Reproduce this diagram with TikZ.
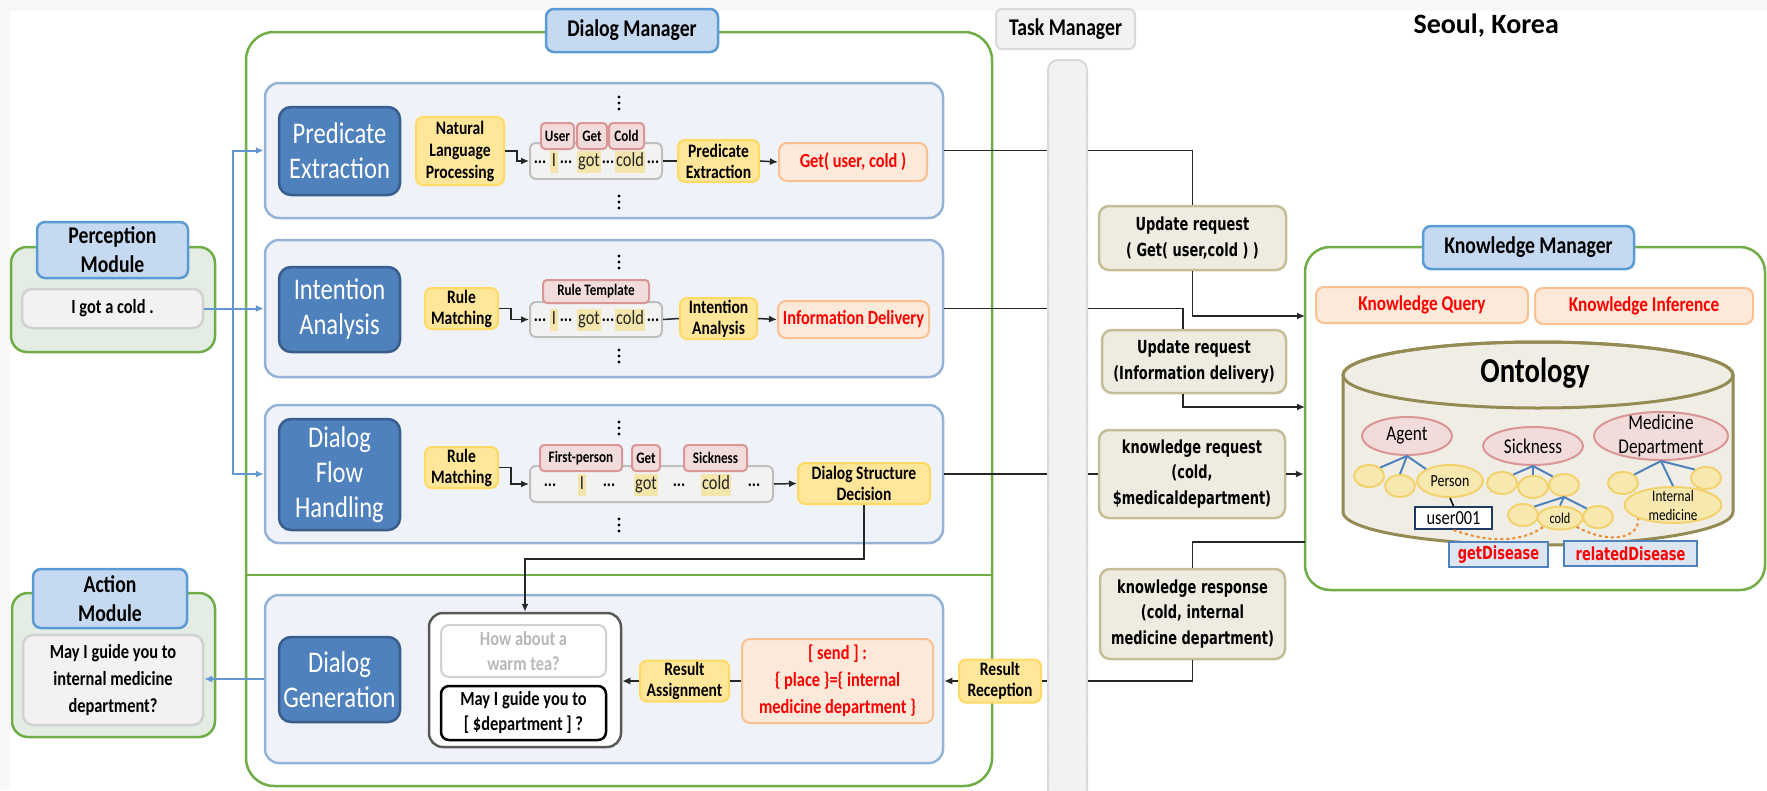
\documentclass[tikz,border=0pt]{standalone}
\usepackage{fontspec}
\setmainfont{Carlito}[FakeStretch=0.82]
\newfontfamily\headfont{Carlito}
\newfontfamily\reqfont{DejaVu Sans}[FakeStretch=0.72]
\usetikzlibrary{arrows.meta,shapes.geometric,patterns}

\definecolor{dmgreen}{RGB}{112,173,71}
\definecolor{modfill}{RGB}{227,237,227}
\definecolor{lblfill}{RGB}{197,217,241}
\definecolor{lblline}{RGB}{91,155,213}
\definecolor{panfill}{RGB}{239,243,249}
\definecolor{panline}{RGB}{149,179,215}
\definecolor{taskfill}{RGB}{79,129,189}
\definecolor{taskline}{RGB}{56,93,138}
\definecolor{yelfill}{RGB}{255,230,153}
\definecolor{yelline}{RGB}{255,217,102}
\definecolor{tagfill}{RGB}{242,220,219}
\definecolor{tagline}{RGB}{217,150,148}
\definecolor{stripfill}{RGB}{242,242,242}
\definecolor{stripline}{RGB}{191,191,191}
\definecolor{hlfill}{RGB}{243,229,171}
\definecolor{resfill}{RGB}{253,233,217}
\definecolor{resline}{RGB}{250,192,144}
\definecolor{reqfill}{RGB}{238,236,225}
\definecolor{reqline}{RGB}{196,189,151}
\definecolor{cylline}{RGB}{148,138,84}
\definecolor{cylfill}{RGB}{240,238,228}
\definecolor{ovfill}{RGB}{247,232,175}
\definecolor{ovline}{RGB}{242,210,110}
\definecolor{treeblue}{RGB}{79,129,189}
\definecolor{arrblue}{RGB}{100,150,210}
\definecolor{relfill}{RGB}{220,230,242}
\definecolor{dashorange}{RGB}{235,140,50}
\definecolor{userline}{RGB}{31,56,100}

\newcommand{\fsz}[2]{\fontsize{#1}{#2}\selectfont}

\tikzset{
  modbox/.style={draw=dmgreen, fill=modfill, line width=2.5pt, rounded corners=16pt, inner sep=0pt},
  mgrbox/.style={draw=dmgreen, fill=white, line width=2.5pt, rounded corners=28pt, inner sep=0pt},
  lblbox/.style={draw=lblline, fill=lblfill, line width=2.5pt, rounded corners=8pt, align=center, inner sep=0pt},
  greybox/.style={draw=black!18, fill=stripfill, line width=2.5pt, rounded corners=10pt, align=center, inner sep=0pt},
  panel/.style={draw=panline, fill=panfill, line width=2.5pt, rounded corners=14pt, inner sep=0pt, minimum width=678pt},
  darkbox/.style={draw=taskline, fill=taskfill, line width=2.5pt, rounded corners=12pt, text=white, align=center, inner sep=0pt, minimum width=121pt, font=\fsz{30}{35}},
  yelbox/.style={draw=yelline, fill=yelfill, line width=2pt, rounded corners=7pt, align=center, inner sep=0pt, font=\bfseries\fsz{19}{21}},
  tagbox/.style={draw=tagline, fill=tagfill, line width=2pt, rounded corners=4pt, inner sep=0pt, minimum height=26pt, font=\bfseries\fsz{16}{18}},
  stripbox/.style={draw=stripline, fill=stripfill, line width=2pt, rounded corners=6pt, inner sep=0pt, minimum height=36pt},
  hlword/.style={fill=hlfill, inner sep=1.5pt, text=black!85, text height=14pt, text depth=5pt, font=\fsz{20}{22}},
  dotword/.style={inner sep=0pt, font=\bfseries\fsz{19}{21}},
  resbox/.style={draw=resline, fill=resfill, line width=2pt, rounded corners=8pt, text=red, align=center, inner sep=0pt},
  grpbox/.style={draw=black!65, fill=white, line width=2.5pt, rounded corners=14pt, inner sep=0pt},
  teabox/.style={draw=black!18, fill=white, line width=2pt, rounded corners=8pt, text=black!28, align=center, inner sep=0pt, font=\bfseries\fsz{20}{25}},
  maybox/.style={draw=black, fill=white, line width=2.5pt, rounded corners=8pt, align=center, inner sep=0pt, font=\bfseries\fsz{20}{25}},
  barbox/.style={draw=black!15, line width=2pt, rounded corners=10pt, preaction={fill=black!3}, pattern=north east lines, pattern color=black!9, inner sep=0pt},
  tmlbox/.style={draw=black!15, fill=black!5, line width=2pt, rounded corners=6pt, inner sep=0pt, font=\bfseries\fsz{24}{28}},
  reqbox/.style={draw=reqline, fill=reqfill, line width=2.5pt, rounded corners=10pt, align=center, inner sep=0pt, font=\reqfont\bfseries\fsz{18}{25.5}},
  ovpink/.style={ellipse, draw=tagline, fill=tagfill, line width=2pt, inner sep=0pt, font=\fsz{21}{24}},
  ovyel/.style={ellipse, draw=ovline, fill=ovfill, line width=2pt, inner sep=0pt, minimum width=30pt, minimum height=22pt},
  relbox/.style={draw=treeblue, fill=relfill, line width=2pt, inner sep=0pt, text=red, font=\reqfont\bfseries\fsz{18}{20}},
  tree/.style={draw=treeblue, line width=2pt},
  conn/.style={draw=black!85, line width=1.5pt},
  bluearr/.style={draw=arrblue, line width=2pt, ->}
}

\begin{document}
\begin{tikzpicture}[x=1pt,y=-1pt,>={Latex[length=8pt,width=7pt]}]
\useasboundingbox (0,0) rectangle (1767,790);
\fill[black!3] (0,0) rectangle (1767,11);
\fill[black!3] (0,0) rectangle (10,790);
\node[anchor=base west, font={\headfont\bfseries\fsz{28}{32}}] (city) at (1410,33) {Seoul, Korea};

% perception and action modules
\node[modbox, minimum width=204pt, minimum height=105pt] (percbox) at (113,299.5) {};
\node[lblbox, minimum width=151pt, minimum height=56pt, font=\bfseries\fsz{24}{29}] (perclbl) at (112.5,250) {Perception\\Module};
\node[greybox, minimum width=181pt, minimum height=39pt, font=\bfseries\fsz{20}{24}] (perctxt) at (112.5,308.5) {I got a cold .};

\node[modbox, minimum width=203pt, minimum height=144pt] (actbox) at (113.5,665) {};
\node[lblbox, minimum width=154pt, minimum height=59pt, font=\bfseries\fsz{24}{29}] (actlbl) at (110,598.5) {Action\\Module};
\node[greybox, minimum width=180pt, minimum height=90pt, font=\bfseries\fsz{20}{27}] (acttxt) at (113,680) {May I guide you to\\internal medicine\\department?};

% dialog manager
\node[mgrbox, minimum width=746pt, minimum height=754pt] (dm) at (619,409) {};
\draw[dmgreen, line width=2.5pt] (246,575) -- (992,575);
\node[lblbox, minimum width=172pt, minimum height=43pt, font=\bfseries\fsz{24}{28}] (dmlbl) at (632,30.5) {Dialog Manager};

\node[panel, minimum height=135pt] (pepan) at (604,150.5) {};
\node[panel, minimum height=137pt] (iapan) at (604,308.5) {};
\node[panel, minimum height=138pt] (dfpan) at (604,474) {};
\node[panel, minimum height=168pt] (dgpan) at (604,679) {};

\node[darkbox, minimum height=88pt] (pe) at (339.5,151) {Predicate\\Extraction};
\node[darkbox, minimum height=85pt] (ia) at (339.5,309.5) {Intention\\Analysis};
\node[darkbox, minimum height=111pt] (df) at (339.5,474.5) {Dialog\\Flow\\Handling};
\node[darkbox, minimum height=85pt] (dg) at (339.5,679.5) {Dialog\\Generation};

% vertical dots above and below the word strips
\foreach \y in {103,202,262,356,428,525}
  \foreach \d in {-6,0,6}
    \fill (619,\y+\d) circle (1.7pt);

% predicate extraction row
\node[yelbox, minimum width=88pt, minimum height=68pt, font=\bfseries\fsz{19}{22}] (nlp) at (460,151) {Natural\\Language\\Processing};
\node[stripbox, minimum width=132pt] (pestrip) at (596,161) {};
\foreach \x in {540,566,608,653}
  \node[dotword] (ped\x) at (\x,162) {...};
\node[hlword] (pew1) at (554,162) {I};
\node[hlword] (pew2) at (589,162) {got};
\node[hlword] (pew3) at (630,162) {cold};
\node[tagbox, minimum width=33pt] (tuser) at (557.5,136) {User};
\node[tagbox, minimum width=30pt] (tget) at (592,136) {Get};
\node[tagbox, minimum width=35pt] (tcold) at (626.5,136) {Cold};
\node[yelbox, minimum width=81pt, minimum height=42pt] (pesm) at (718.5,161) {Predicate\\Extraction};
\node[resbox, minimum width=148pt, minimum height=38pt, font=\bfseries\fsz{20}{24}] (peres) at (853,162) {Get( user, cold )};
\draw[conn,->] (nlp.east) -- ++(12,0) |- (pestrip.west);
\draw[conn] (pestrip.east) -- (pesm.west);
\draw[conn,->] (pesm.east) -- (peres.west);

% intention analysis row
\node[yelbox, minimum width=73pt, minimum height=41pt] (iarm) at (461.5,308.5) {Rule\\Matching};
\node[stripbox, minimum width=132pt, minimum height=35pt] (iastrip) at (596,319.5) {};
\foreach \x in {540,566,608,653}
  \node[dotword] (iad\x) at (\x,320) {...};
\node[hlword] (iaw1) at (554,320) {I};
\node[hlword] (iaw2) at (589,320) {got};
\node[hlword] (iaw3) at (630,320) {cold};
\node[tagbox, minimum width=106pt, minimum height=23pt] (trule) at (596,291.5) {Rule Template};
\node[yelbox, minimum width=77pt, minimum height=41pt] (iasm) at (718.5,318.5) {Intention\\Analysis};
\node[resbox, minimum width=151pt, minimum height=37pt, font=\bfseries\fsz{20}{24}] (iares) at (853.5,319.5) {Information Delivery};
\draw[conn,->] (iarm.east) -- ++(12,0) |- (iastrip.west);
\draw[conn] (iastrip.east) -- (iasm.west);
\draw[conn,->] (iasm.east) -- (iares.west);

% dialog flow row
\node[yelbox, minimum width=73pt, minimum height=41pt] (dfrm) at (461.5,467.5) {Rule\\Matching};
\node[stripbox, minimum width=243pt] (dfstrip) at (651.5,484) {};
\foreach \x in {550,609,679,754}
  \node[dotword] (dfd\x) at (\x,485) {...};
\node[hlword] (dfw1) at (582,485) {I};
\node[hlword] (dfw2) at (646,485) {got};
\node[hlword] (dfw3) at (716,485) {cold};
\node[tagbox, minimum width=82pt] (tfirst) at (581,458) {First-person};
\node[tagbox, minimum width=28pt] (tget2) at (646,458) {Get};
\node[tagbox, minimum width=63pt] (tsick) at (715.5,458) {Sickness};
\node[yelbox, minimum width=132pt, minimum height=41pt] (dfsm) at (864,483.5) {Dialog Structure\\Decision};
\draw[conn,->] (dfrm.east) -- ++(12,0) |- (dfstrip.west);
\draw[conn,->] (dfstrip.east) -- (dfsm.west);

% dialog generation row
\node[grpbox, minimum width=192pt, minimum height=134pt] (grp) at (525,680) {};
\node[teabox, minimum width=165pt, minimum height=52pt] (tea) at (523.5,651) {How about a\\warm tea?};
\node[maybox, minimum width=165pt, minimum height=54pt] (may) at (523.5,713) {May I guide you to\\{[} \$department {]} ?};
\node[yelbox, minimum width=89pt, minimum height=41pt] (ra) at (684.5,681) {Result\\Assignment};
\node[resbox, minimum width=191pt, minimum height=84pt, font=\bfseries\fsz{20}{27}] (send) at (837.5,681) {[ send ] :\\\{ place \}=\{ internal\\medicine department \}};
\node[yelbox, minimum width=82pt, minimum height=43pt] (rr) at (1000,681) {Result\\Reception};
\draw[conn,->] (dfsm.south) -- ++(0,54) -| (grp.north);
\draw[conn,->] (rr.west) -- (rr.west -| dgpan.east);
\draw[conn] (send.west) -- (ra.east);
\draw[conn,->] (ra.west) -- (ra.west -| grp.east);

% input and output arrows
\coordinate (fork) at (233,308.5);
\draw[bluearr] (perctxt.east) -- (iapan.west);
\draw[bluearr] (fork) |- (pepan.west);
\draw[bluearr] (fork) |- (dfpan.west);
\draw[bluearr] (dgpan.west) -- (dgpan.west -| acttxt.east);

% task manager
\node[barbox, minimum width=39pt, minimum height=740pt] (bar) at (1067.5,430) {};
\node[tmlbox, minimum width=139pt, minimum height=40pt] (tmlbl) at (1065.5,29) {Task Manager};

\node[reqbox, minimum width=187pt, minimum height=64pt] (upd1) at (1192.5,238) {Update request\\( Get( user,cold ) )};
\node[reqbox, minimum width=184pt, minimum height=63pt] (upd2) at (1194,361.5) {Update request\\(Information delivery)};
\node[reqbox, minimum width=186pt, minimum height=88pt] (kreq) at (1192,474) {knowledge request\\(cold,\\\$medicaldepartment)};
\node[reqbox, minimum width=185pt, minimum height=90pt] (kres) at (1192.5,614) {knowledge response\\(cold, internal\\medicine department)};

% knowledge manager
\node[mgrbox, rounded corners=25pt, minimum width=460pt, minimum height=343pt] (km) at (1535,418.5) {};
\node[lblbox, minimum width=211pt, minimum height=43pt, font=\bfseries\fsz{24}{28}] (kmlbl) at (1528.5,247.5) {Knowledge Manager};
\node[resbox, minimum width=212pt, minimum height=36pt, font=\bfseries\fsz{21}{24}] (kq) at (1422,305) {Knowledge Query};
\node[resbox, minimum width=218pt, minimum height=36pt, font=\bfseries\fsz{21}{24}] (ki) at (1644,306) {Knowledge Inference};
\coordinate (kin1) at (1305,316);
\coordinate (kin2) at (1305,407);
\coordinate (kout) at (1305,542);

\draw[conn] (pepan.east) -- (pepan.east -| bar.west);
\draw[conn] (pepan.east -| bar.east) -| (upd1.north);
\draw[conn,->] (upd1.south) |- (kin1);
\draw[conn] (iapan.east) -- (iapan.east -| bar.west);
\draw[conn] (iapan.east -| bar.east) -| ([xshift=-11pt]upd2.north);
\draw[conn,->] ([xshift=-11pt]upd2.south) |- (kin2);
\draw[conn] (dfpan.east) -- (dfpan.east -| bar.west);
\draw[conn] (dfpan.east -| bar.east) -- (kreq.west);
\draw[conn,->] (kreq.east) -- (kreq.east -| km.west);
\draw[conn] (kout) -| (kres.north);
\draw[conn] (kres.south) |- (rr.east -| bar.east);
\draw[conn] (rr.east -| bar.west) -- (rr.east);

% ontology
\path[draw=cylline, fill=cylfill, line width=3pt] (1343,375) -- (1343,512)
  arc[start angle=180, end angle=360, x radius=195pt, y radius=33pt] -- (1733,375)
  arc[start angle=0, end angle=180, x radius=195pt, y radius=33pt] -- cycle;
\draw[cylline, line width=3pt] (1538,375) ellipse [x radius=195pt, y radius=33pt];
\node[font=\bfseries\fsz{35}{40}] (onto) at (1535,373) {Ontology};

\node[ovpink, minimum width=90pt, minimum height=38pt] (agent) at (1407,436) {Agent};
\node[ovpink, minimum width=100pt, minimum height=38pt] (sick) at (1533,446) {Sickness};
\node[ovpink, minimum width=134pt, minimum height=48pt, label={[align=center, font=\fsz{21}{24}]center:Medicine\\Department}] (med) at (1661,436) {};
\foreach \n/\x/\y in {a1/1369/476, a2/1400/486, s1/1502/483, s2/1533/487, s3/1564/485, c1/1523/515, c3/1598/517, m1/1623/483, m3/1706/478}
  \node[ovyel] (\n) at (\x,\y) {};
\node[ovyel, minimum width=66pt, minimum height=32pt, font=\fsz{17}{19}] (person) at (1450,481) {Person};
\node[ovyel, minimum width=45pt, minimum height=23pt, font=\fsz{15}{17}] (cold) at (1560,518) {cold};
\node[ovyel, minimum width=97pt, minimum height=36pt, label={[align=center, font=\fsz{16}{19}]center:Internal\\medicine}] (intmed) at (1673,505) {};
\foreach \p/\c in {agent/a1.north east, agent/a2.north, agent/person.north west, sick/s1.north east, sick/s2.north, sick/s3.north west, s3/c1.north east, s3/cold.north, s3/c3.north west, med/m1.north east, med/intmed.north, med/m3.north west}
  \draw[tree] (\p.south) -- (\c);
\node[draw=userline, fill=white, line width=2pt, inner sep=0pt, minimum width=77pt, minimum height=22pt, font=\fsz{20}{22}] (user) at (1453.5,518) {user001};
\draw[black, line width=1.5pt] (person.south) -- (user.north);
\draw[dashorange, dashed, line width=2pt] (user.south) .. controls (1495,545) and (1525,540) .. (cold.south west);
\draw[dashorange, dashed, line width=2pt] (cold.south east) .. controls (1610,545) and (1640,538) .. (intmed.south west);
\node[relbox, minimum width=99pt, minimum height=25pt] (getd) at (1498.5,554.5) {getDisease};
\node[relbox, minimum width=133pt, minimum height=25pt] (reld) at (1630.5,553.5) {relatedDisease};
\end{tikzpicture}
\end{document}
